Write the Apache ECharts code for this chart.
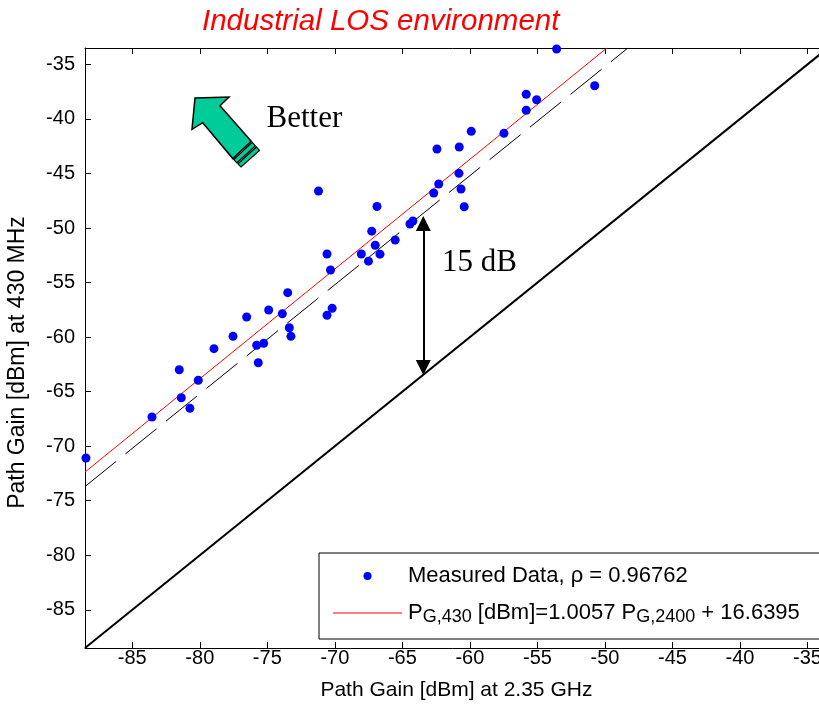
<!DOCTYPE html>
<html>
<head>
<meta charset="utf-8">
<script src="https://cdn.jsdelivr.net/npm/echarts/dist/echarts.min.js"></script>
<style>html,body{margin:0;padding:0;background:#fff;}#chart{width:819px;height:707px;}</style>
</head>
<body>
<div id="chart"></div>
<script>
// ---- data ----
const tickValues = [-85, -80, -75, -70, -65, -60, -55, -50, -45, -40, -35];
const axisRange = [-88.5, -33.5];
// Path gain at 2.35 GHz (x) and at 430 MHz (y), dBm
const pg2350 = [-88.43, -83.54, -81.52, -81.37, -80.73, -80.11, -78.95, -77.54, -76.53, -75.79,
                -75.67, -75.27, -74.90, -73.89, -73.49, -73.37, -73.25, -71.21, -70.58, -70.32,
                -70.58, -70.20, -68.04, -67.51, -67.27, -67.01, -66.88, -66.66, -65.53, -64.44,
                -64.22, -62.68, -62.44, -62.31, -60.81, -60.79, -60.66, -60.42, -59.90, -57.48,
                -55.83, -55.83, -55.06, -53.58, -50.76];
const pg430  = [-71.08, -67.33, -62.99, -65.56, -66.53, -63.96, -61.06, -59.93, -58.16, -60.75,
                -62.35, -60.57, -57.52, -57.86, -55.93, -59.14, -59.93, -46.61, -52.38, -53.85,
                -58.00, -57.36, -52.38, -53.04, -50.29, -51.58, -48.03, -52.40, -51.10, -49.63,
                -49.36, -46.79, -42.76, -45.97, -44.99, -42.58, -46.43, -48.05, -41.14, -41.32,
                -37.74, -39.21, -38.24, -33.59, -36.96];
// regression line end points (P430 = 1.0057 P2400 + 16.6395)
const fitX = [-88.5, -49.86];
const fitY = [-72.37, -33.5];
// 15 dB offset reference line (dashed)
const offX = [-88.5, -48.3];
const offY = [-73.7, -33.5];
// equality line
const eqX = [-88.5, -33.5];
const eqY = [-88.5, -33.5];
// double arrow annotation
const arrowX = -63.45;
const arrowY = [-49.59, -62.79];

const scatterName = 'Measured Data, \u03c1 = 0.96762';
const fitName = 'fit';
const FONT = 'Liberation Sans';

function pairs(xs, ys) { return xs.map((x, i) => [x, ys[i]]); }

const chart = echarts.init(document.getElementById('chart'), null, {renderer: 'canvas'});

const tickCommon = {show: true, inside: true, length: 6, customValues: tickValues, lineStyle: {color: '#000', width: 1}};
const lineCommon = {show: true, onZero: false, lineStyle: {color: '#000', width: 1}};

// green "Better" arrow geometry (annotation, pixels)
const A = [251.2, 141.2], B = [259.5, 150.5], C = [232.8, 158.6], D = [241, 167];
function lerp(p, q, t) { return [p[0] + (q[0] - p[0]) * t, p[1] + (q[1] - p[1]) * t]; }
function stripe(t0, t1) { return [lerp(A, B, t0), lerp(A, B, t1), lerp(C, D, t1), lerp(C, D, t0)]; }

const option = {
  animation: false,
  backgroundColor: '#fff',
  title: {
    text: 'Industrial LOS environment',
    left: 202, top: 7, padding: 0,
    textStyle: {color: '#ff0000', fontStyle: 'italic', fontWeight: 'normal', fontSize: 29.5, fontFamily: FONT}
  },
  grid: {left: 85, top: 48, width: 742.8, height: 600, containLabel: false, outerBoundsMode: 'none'},
  xAxis: [{
    type: 'value', position: 'bottom', min: axisRange[0], max: axisRange[1],
    axisLine: lineCommon, axisTick: tickCommon, splitLine: {show: false},
    axisLabel: {show: true, customValues: tickValues, margin: 0, color: '#000', fontSize: 20, fontFamily: FONT},
    name: 'Path Gain [dBm] at 2.35 GHz', nameLocation: 'middle', nameGap: 32,
    nameTextStyle: {color: '#000', fontSize: 21, fontFamily: FONT}
  }, {
    type: 'value', position: 'top', min: axisRange[0], max: axisRange[1],
    axisLine: lineCommon, axisTick: tickCommon, splitLine: {show: false}, axisLabel: {show: false}
  }],
  yAxis: [{
    type: 'value', position: 'left', min: axisRange[0], max: axisRange[1],
    axisLine: lineCommon, axisTick: tickCommon, splitLine: {show: false},
    axisLabel: {show: true, customValues: tickValues, margin: 10, color: '#000', fontSize: 20, fontFamily: FONT},
    name: 'Path Gain [dBm] at 430 MHz', nameLocation: 'middle', nameGap: 56,
    nameTextStyle: {color: '#000', fontSize: 23, fontFamily: FONT, padding: [0, 29, 0, 0]}
  }, {
    type: 'value', position: 'right', min: axisRange[0], max: axisRange[1],
    axisLine: lineCommon, axisTick: tickCommon, splitLine: {show: false}, axisLabel: {show: false}
  }],
  legend: {
    orient: 'vertical', left: 319, top: 553,
    padding: [12, 45, 13, 14], itemGap: 15, itemWidth: 69, itemHeight: 8,
    backgroundColor: '#fff', borderColor: '#000', borderWidth: 1, borderRadius: 0,
    selectedMode: false,
    data: [
      {name: scatterName, icon: 'circle'},
      {name: fitName, icon: 'path://M0,0L69,0L69,1L0,1Z', itemStyle: {color: '#ff0000', borderWidth: 0}}
    ],
    formatter: function (name) {
      if (name === fitName) {
        return '{m0|P}{s|G,430}{m| [dBm]=1.0057 P}{s|G,2400}{m| + 16.6395}';
      }
      return '{m0|' + name + '}';
    },
    textStyle: {
      color: '#000', fontSize: 22, fontFamily: FONT,
      rich: {
        m0: {color: '#000', fontSize: 22, fontFamily: FONT, lineHeight: 26, padding: [0, 0, 0, 1]},
        m: {color: '#000', fontSize: 22, fontFamily: FONT, lineHeight: 26},
        s: {color: '#000', fontSize: 18, fontFamily: FONT, lineHeight: 14, verticalAlign: 'bottom'}
      }
    }
  },
  series: [
    {
      name: 'offset', type: 'line', data: pairs(offX, offY), symbol: 'none', silent: true,
      lineStyle: {color: '#000', width: 1, type: [40, 12]}, z: 2
    },
    {
      name: 'equal', type: 'line', data: pairs(eqX, eqY), symbol: 'none', silent: true,
      lineStyle: {color: '#000', width: 2}, z: 2,
      markLine: {
        silent: true, animation: false, symbol: ['triangle', 'triangle'], symbolSize: 15,
        label: {show: false}, emphasis: {disabled: true},
        lineStyle: {color: '#000', width: 2, type: 'solid'},
        data: [[{coord: [arrowX, arrowY[0]]}, {coord: [arrowX, arrowY[1]]}]]
      }
    },
    {
      name: fitName, type: 'line', data: pairs(fitX, fitY), symbol: 'none', silent: true,
      lineStyle: {color: '#ff0000', width: 1}, itemStyle: {color: '#ff0000'}, z: 3
    },
    {
      name: scatterName, type: 'scatter', data: pairs(pg2350, pg430), symbol: 'circle', symbolSize: 9,
      itemStyle: {color: '#0000ff', opacity: 1}, z: 4, silent: true
    }
  ],
  graphic: [
    {
      type: 'polygon', z: 50,
      shape: {points: [[195, 98], [229, 97], [220, 105.7], A, C, [202.7, 122.7], [192, 129.3]]},
      style: {fill: '#00cc99', stroke: '#000', lineWidth: 1.5, lineJoin: 'miter'}
    },
    {type: 'polygon', z: 50, shape: {points: stripe(0.12, 0.5)}, style: {fill: '#00cc99', stroke: '#000', lineWidth: 1.2}},
    {type: 'polygon', z: 50, shape: {points: stripe(0.62, 1.0)}, style: {fill: '#00cc99', stroke: '#000', lineWidth: 1.2}},
    {
      type: 'text', x: 266.5, y: 118.8, z: 50,
      style: {text: 'Better', fill: '#000', fontSize: 31, fontFamily: 'Liberation Serif',
              align: 'left', verticalAlign: 'middle', textAlign: 'left', textVerticalAlign: 'middle'}
    },
    {
      type: 'text', x: 442, y: 262.8, z: 50,
      style: {text: '15 dB', fill: '#000', fontSize: 31, fontFamily: 'Liberation Serif',
              align: 'left', verticalAlign: 'middle', textAlign: 'left', textVerticalAlign: 'middle'}
    }
  ]
};
chart.setOption(option);
</script>
</body>
</html>
